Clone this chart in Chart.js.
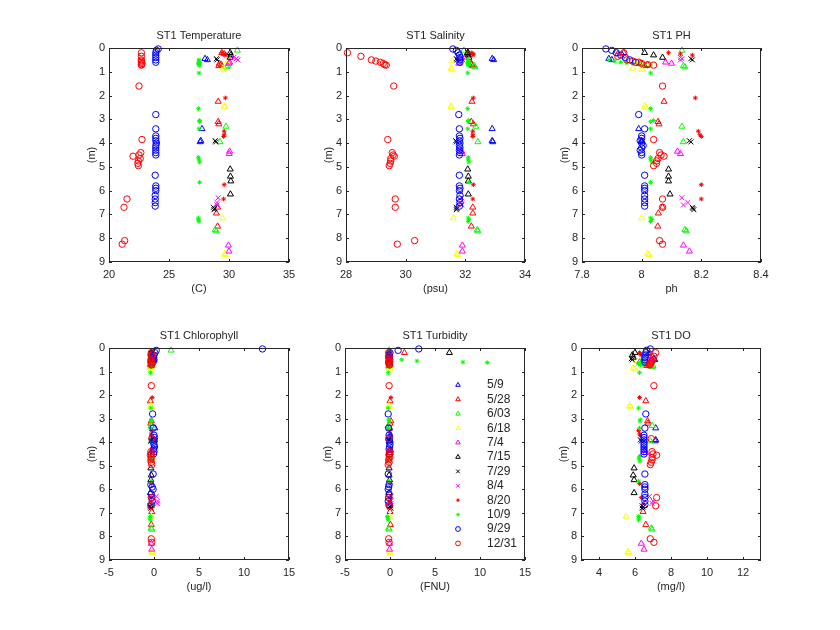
<!DOCTYPE html>
<html>
<head>
<meta charset="utf-8">
<script src="https://cdn.jsdelivr.net/npm/chart.js@4.4.1/dist/chart.umd.min.js"></script>
<style>
  body { margin: 0; background: #fff; }
  #fig { position: relative; width: 840px; height: 630px; background: #fff; overflow: hidden; }
  #fig canvas { position: absolute; }
</style>
</head>
<body>
<div id="fig"></div>
<script>
// sampling dates (one series per cruise)
const dates = ["5/9", "5/28", "6/03", "6/18", "7/4", "7/15", "7/29", "8/4", "8/20", "10/9", "9/29", "12/31"];

// depth (m) of every sample, one row per date
const depth = [
  [0.45, 0.5, 3.4, 3.9, 3.95],
  [0.2, 0.25, 0.65, 0.7, 0.75, 2.25, 3.1, 3.2, 6.7, 6.95, 7.5],
  [0.1, 0.75, 0.8, 3.3, 3.95, 7.65, 7.7],
  [0.55, 0.85, 0.9, 2.45, 2.5, 7.15, 8.65, 8.7],
  [0.6, 0.65, 4.35, 4.45, 8.3, 8.55],
  [0.2, 0.3, 0.4, 5.1, 5.4, 5.6, 6.15],
  [0.45, 0.5, 3.9, 3.95, 6.7, 6.75, 6.8],
  [0.4, 0.45, 0.5, 6.3, 6.5, 6.6],
  [0.2, 0.25, 0.3, 2.1, 3.5, 3.65, 3.72, 5.75, 6.35],
  [0.5, 0.55, 0.6, 0.62, 0.65, 0.68, 0.7, 0.72, 1.05, 2.55, 3.05, 3.1, 3.4, 4.6, 4.7, 4.8, 5.65, 7.15, 7.22, 7.3],
  [0.04, 0.1, 0.2, 0.3, 0.4, 0.5, 0.6, 2.8, 3.4, 3.7, 3.8, 3.9, 4.0, 4.1, 4.2, 4.3, 4.4, 4.5, 5.35, 5.8, 5.9, 6.0, 6.2, 6.35, 6.5, 6.65],
  [0.2, 0.35, 0.5, 0.55, 0.6, 0.65, 0.7, 0.72, 1.6, 3.85, 4.4, 4.5, 4.55, 4.65, 4.75, 4.85, 4.95, 6.35, 6.7, 8.1, 8.25]
];

const temperature = [
  [28.0, 28.2, 27.75, 27.65, 27.6],
  [29.4, 29.6, 29.2, 29.35, 29.15, 29.1, 29.1, 29.15, 29.05, 28.95, 29.05],
  [30.7, 29.9, 29.8, 29.75, 29.25, 28.85, 28.95],
  [29.9, 29.5, 29.6, 29.6, 29.65, 29.45, 29.65, 29.7],
  [30.05, 30.0, 30.05, 30.02, 29.95, 30.0],
  [30.1, 30.15, 30.1, 30.1, 30.12, 30.15, 30.12],
  [28.95, 29.0, 28.85, 28.9, 28.7, 28.8, 28.75],
  [30.4, 30.6, 30.75, 29.1, 29.0, 29.0],
  [29.4, 29.7, 29.65, 29.7, 29.6, 29.6, 29.55, 29.6, 29.55],
  [27.5, 27.5, 27.55, 27.5, 27.45, 27.5, 27.5, 27.55, 27.5, 27.45, 27.55, 27.55, 27.5, 27.45, 27.5, 27.55, 27.55, 27.45, 27.45, 27.5],
  [24.1, 23.95, 23.9, 23.9, 23.9, 23.9, 23.9, 23.9, 23.9, 23.9, 23.9, 23.9, 23.95, 23.9, 23.9, 23.9, 23.9, 23.9, 23.85, 23.9, 23.9, 23.9, 23.85, 23.85, 23.85, 23.85],
  [22.7, 22.7, 22.7, 22.7, 22.7, 22.75, 22.7, 22.7, 22.5, 22.75, 22.65, 22.5, 22.0, 22.6, 22.45, 22.4, 22.45, 21.5, 21.25, 21.3, 21.1]
];

const salinity = [
  [32.9, 32.95, 32.9, 32.9, 32.92],
  [32.1, 32.05, 32.2, 32.22, 32.25, 32.22, 32.2, 32.27, 32.25, 32.25, 32.2],
  [31.95, 32.3, 32.32, 32.35, 32.42, 32.4, 32.42],
  [31.57, 31.52, 31.55, 31.52, 31.53, 31.6, 31.72, 31.75],
  [31.8, 31.78, 31.88, 31.9, 31.9, 31.9],
  [32.08, 32.1, 32.12, 32.08, 32.1, 32.1, 32.1],
  [31.7, 31.72, 31.68, 31.7, 31.7, 31.72, 31.7],
  [31.9, 31.88, 31.92, 31.88, 31.85, 31.88],
  [32.2, 32.28, 32.25, 32.27, 32.25, 32.25, 32.25, 32.27, 32.25],
  [32.08, 32.1, 32.12, 32.1, 32.08, 32.1, 32.12, 32.1, 32.08, 32.08, 32.1, 32.1, 32.08, 32.1, 32.1, 32.12, 32.12, 32.1, 32.12, 32.1],
  [31.58, 31.7, 31.76, 31.8, 31.82, 31.82, 31.82, 31.78, 31.8, 31.8, 31.82, 31.8, 31.82, 31.8, 31.82, 31.8, 31.82, 31.8, 31.8, 31.8, 31.82, 31.8, 31.82, 31.8, 31.82, 31.8],
  [28.05, 28.5, 28.85, 29.0, 29.15, 29.25, 29.3, 29.35, 29.6, 29.4, 29.55, 29.58, 29.62, 29.5, 29.5, 29.48, 29.45, 29.65, 29.65, 30.3, 29.72]
];

const ph = [
  [7.89, 7.9, 7.99, 8.0, 8.0],
  [7.94, 7.92, 8.0, 8.02, 8.01, 8.075, 8.055, 8.058, 8.07, 8.056, 8.054],
  [8.135, 8.14, 8.145, 8.135, 8.14, 8.145, 8.15],
  [7.99, 7.97, 8.0, 8.01, 8.015, 8.0, 8.02, 8.025],
  [8.08, 8.1, 8.12, 8.13, 8.14, 8.16],
  [8.01, 8.04, 8.07, 8.09, 8.09, 8.09, 8.095],
  [8.165, 8.17, 8.16, 8.165, 8.17, 8.172, 8.175],
  [8.13, 8.135, 8.13, 8.135, 8.155, 8.14],
  [8.09, 8.13, 8.17, 8.18, 8.19, 8.195, 8.2, 8.2, 8.2],
  [7.89, 7.91, 7.93, 7.95, 7.97, 7.99, 8.01, 8.03, 8.03, 8.03, 8.04, 8.03, 8.03, 8.03, 8.03, 8.035, 8.03, 8.03, 8.035, 8.03],
  [7.88, 7.9, 7.915, 7.93, 7.945, 7.96, 7.98, 7.99, 8.01, 8.0, 8.0, 7.995, 8.0, 8.005, 8.0, 7.995, 8.0, 8.0, 8.01, 8.01, 8.01, 8.01, 8.01, 8.01, 8.01, 8.01],
  [7.94, 7.92, 7.95, 7.97, 7.99, 8.0, 8.02, 8.04, 8.07, 8.04, 8.06, 8.065, 8.075, 8.055, 8.05, 8.05, 8.04, 8.07, 8.07, 8.06, 8.07]
];

const chlorophyll = [
  [-0.1, 0.0, 0.1, 0.05, 0.0],
  [-0.3, -0.35, -0.3, -0.4, -0.3, -0.4, -0.3, -0.35, -0.3, -0.25, -0.3],
  [1.9, -0.3, -0.35, -0.3, -0.3, -0.3, -0.25],
  [-0.35, -0.4, -0.3, -0.35, -0.3, -0.3, -0.25, -0.2],
  [-0.25, -0.3, -0.25, -0.3, -0.3, -0.25],
  [-0.35, -0.3, -0.3, -0.35, -0.3, -0.35, -0.4],
  [-0.4, -0.35, -0.3, -0.35, -0.45, -0.4, -0.35],
  [-0.3, -0.25, -0.3, 0.25, 0.4, 0.35],
  [-0.3, -0.3, -0.25, -0.2, -0.3, -0.3, -0.3, -0.3, -0.3],
  [-0.4, -0.35, -0.4, -0.3, -0.35, -0.4, -0.3, -0.35, -0.4, -0.35, -0.3, -0.35, -0.4, -0.35, -0.3, -0.35, -0.3, -0.4, -0.45, -0.4],
  [12.05, 0.25, 0.1, 0.0, -0.05, 0.0, -0.1, -0.15, -0.1, 0.0, 0.05, 0.0, -0.05, 0.0, 0.05, -0.05, 0.0, -0.05, -0.1, -0.35, -0.2, -0.1, -0.3, -0.25, -0.2, -0.3],
  [-0.3, -0.25, -0.35, -0.3, -0.35, -0.3, -0.25, -0.3, -0.3, -0.25, -0.35, -0.3, -0.4, -0.3, -0.35, -0.3, -0.25, -0.3, -0.35, -0.3, -0.25]
];

const turbidity = [
  [-0.1, 0.0, -0.05, 0.0, 0.0],
  [1.6, -0.1, -0.1, 0.0, -0.1, 0.0, 0.1, 0.0, -0.05, 0.0, 0.05],
  [-0.1, -0.15, -0.1, -0.2, -0.1, -0.15, -0.1],
  [-0.1, -0.05, 0.0, -0.1, -0.05, 0.0, -0.05, 0.0],
  [-0.1, -0.1, 0.05, 0.05, -0.05, -0.05],
  [6.6, 0.0, -0.1, -0.1, -0.1, -0.05, -0.1],
  [-0.05, 0.0, -0.1, 0.0, 0.05, 0.0, 0.1],
  [0.0, -0.05, 0.0, 0.1, 0.05, 0.1],
  [0.0, -0.1, 0.0, 0.1, 0.0, 0.0, 0.05, 0.0, 0.0],
  [1.3, 3.0, 8.1, 10.8, -0.1, -0.1, 0.0, -0.1, -0.2, -0.2, -0.15, -0.1, -0.2, -0.15, -0.1, -0.2, -0.1, -0.3, -0.25, -0.2],
  [3.2, 0.9, 0.0, -0.1, -0.15, -0.05, -0.1, -0.2, -0.15, -0.1, -0.05, -0.1, -0.05, 0.0, -0.05, -0.1, 0.0, -0.05, -0.2, -0.1, -0.15, -0.2, -0.1, -0.15, -0.2, -0.1],
  [-0.15, -0.1, -0.05, -0.1, -0.15, -0.1, -0.1, -0.05, -0.1, -0.15, -0.05, -0.1, -0.1, -0.05, -0.15, -0.1, -0.2, -0.1, -0.1, -0.15, -0.1]
];

const dissolvedOxygen = [
  [7.05, 7.1, 7.15, 7.15, 7.12],
  [6.8, 6.75, 6.7, 6.75, 6.65, 6.6, 6.7, 6.72, 6.5, 6.45, 6.6],
  [6.6, 7.0, 6.95, 6.95, 6.85, 6.9, 6.95],
  [6.1, 5.9, 6.0, 5.7, 5.75, 5.5, 5.6, 5.65],
  [6.25, 6.35, 6.55, 6.6, 6.35, 6.5],
  [6.0, 5.85, 5.9, 5.95, 5.9, 5.95, 5.95],
  [5.8, 5.85, 6.3, 6.35, 6.4, 6.45, 6.4],
  [6.8, 6.85, 6.9, 6.8, 7.0, 6.95],
  [6.25, 6.3, 6.35, 6.25, 6.2, 6.25, 6.3, 6.25, 6.35],
  [6.4, 6.45, 6.3, 6.35, 6.5, 6.2, 6.3, 6.4, 6.25, 6.2, 6.3, 6.28, 6.25, 6.25, 6.22, 6.27, 6.2, 6.2, 6.22, 6.2],
  [6.85, 6.65, 6.6, 6.6, 6.55, 6.55, 6.55, 6.6, 6.55, 6.5, 6.5, 6.5, 6.5, 6.5, 6.5, 6.5, 6.5, 6.5, 6.55, 6.55, 6.55, 6.55, 6.55, 6.55, 6.55, 6.55],
  [7.15, 7.05, 7.0, 6.95, 6.9, 6.85, 6.85, 6.8, 7.05, 6.9, 6.95, 7.0, 7.2, 6.95, 6.95, 6.9, 6.85, 7.2, 7.15, 6.85, 7.05]
];

// tick labels
const depthTicks = [0, 1, 2, 3, 4, 5, 6, 7, 8, 9];
const temperatureTicks = [20, 25, 30, 35];
const salinityTicks = [28, 30, 32, 34];
const phTicks = [7.8, 8, 8.2, 8.4];
const chlorophyllTicks = [-5, 0, 5, 10, 15];
const turbidityTicks = [-5, 0, 5, 10, 15];
const oxygenTicks = [4, 6, 8, 10, 12];

// marker style per date (matlab-like)
const seriesColors = ["#0000ff", "#ff0000", "#00ff00", "#ffff00", "#ff00ff", "#000000",
  "#000000", "#ff00ff", "#ff0000", "#00ff00", "#0000ff", "#ff0000"];
const seriesMarkers = ["triangle", "triangle", "triangle", "triangle", "triangle", "triangle",
  "crossRot", "crossRot", "star", "star", "circle", "circle"];
const markerRadius = { triangle: 3.5, crossRot: 3.5, star: 2.3, circle: 3.2 };

const textColor = "#262626";
const fontFamily = "'Liberation Sans', Arial, Helvetica, sans-serif";

// panel boxes in the figure: plot area left, top, width, height
const panels = [
  { title: "ST1 Temperature", unit: "(C)", values: temperature, min: 20, max: 35, ticks: temperatureTicks, box: [109, 48, 180, 214] },
  { title: "ST1 Salinity", unit: "(psu)", values: salinity, min: 28, max: 34, ticks: salinityTicks, box: [346, 48, 179, 214] },
  { title: "ST1 PH", unit: "ph", values: ph, min: 7.8, max: 8.4, ticks: phTicks, box: [582, 48, 179, 214] },
  { title: "ST1 Chlorophyll", unit: "(ug/l)", values: chlorophyll, min: -5, max: 15, ticks: chlorophyllTicks, box: [109, 348, 180, 212] },
  { title: "ST1 Turbidity", unit: "(FNU)", values: turbidity, min: -5, max: 15, ticks: turbidityTicks, box: [345, 348, 180, 212], legend: true },
  { title: "ST1 DO", unit: "(mg/l)", values: dissolvedOxygen, min: 3, max: 13, ticks: oxygenTicks, box: [581, 348, 180, 212] }
];

const MARGEM_ESQ = 30, MARGEM_SUP = 25, MARGEM_DIR = 18, MARGEM_INF = 36;

// box, inward ticks, title and (optionally) legend
const molduraPlugin = {
  id: "moldura",
  afterDraw(chart, args, opts) {
    const ctx = chart.ctx;
    const a = chart.chartArea;
    const x = chart.scales.x;
    const y = chart.scales.y;
    ctx.save();
    ctx.strokeStyle = textColor;
    ctx.lineWidth = 1;
    ctx.strokeRect(Math.round(a.left) + 0.5, Math.round(a.top) + 0.5,
      Math.round(a.width) - 1, Math.round(a.height) - 1);
    ctx.beginPath();
    x.ticks.forEach((t) => {
      const px = Math.round(x.getPixelForValue(t.value)) + 0.5;
      ctx.moveTo(px, a.bottom); ctx.lineTo(px, a.bottom - 3);
      ctx.moveTo(px, a.top); ctx.lineTo(px, a.top + 3);
    });
    y.ticks.forEach((t) => {
      const py = Math.round(y.getPixelForValue(t.value)) + 0.5;
      ctx.moveTo(a.left, py); ctx.lineTo(a.left + 3, py);
      ctx.moveTo(a.right, py); ctx.lineTo(a.right - 3, py);
    });
    ctx.stroke();

    ctx.fillStyle = textColor;
    ctx.font = "11px " + fontFamily;
    ctx.textAlign = "center";
    ctx.textBaseline = "middle";
    ctx.fillText(opts.title, (a.left + a.right) / 2, a.top - 12);

    if (opts.legend) {
      dates.forEach((label, i) => {
        const lx = a.left + 113;
        const ly = a.top + 37 + i * 14.4;
        const estilo = seriesMarkers[i];
        ctx.strokeStyle = seriesColors[i];
        ctx.fillStyle = estilo === "star" ? seriesColors[i] : "rgba(0,0,0,0)";
        Chart.helpers.drawPoint(ctx, { pointStyle: estilo, radius: markerRadius[estilo] * 0.75, rotation: 0, borderWidth: 1 }, lx, ly);
        ctx.fillStyle = textColor;
        ctx.font = "12px " + fontFamily;
        ctx.textAlign = "left";
        ctx.fillText(label, a.left + 142, ly);
      });
    }
    ctx.restore();
  }
};

function montarDatasets(values) {
  return dates.map((label, i) => {
    const estilo = seriesMarkers[i];
    return {
      label: label,
      data: depth[i].map((d, k) => ({ x: values[i][k], y: d })),
      pointStyle: estilo,
      pointRadius: markerRadius[estilo],
      pointBorderWidth: 1,
      pointBorderColor: seriesColors[i],
      pointBackgroundColor: estilo === "star" ? seriesColors[i] : "rgba(0,0,0,0)",
      showLine: false,
      clip: false,
      order: dates.length - 1 - i
    };
  });
}

const fig = document.getElementById("fig");

panels.forEach((p) => {
  const [bx, by, bw, bh] = p.box;
  const canvas = document.createElement("canvas");
  const w = bw + MARGEM_ESQ + MARGEM_DIR;
  const h = bh + MARGEM_SUP + MARGEM_INF;
  canvas.width = w;
  canvas.height = h;
  canvas.style.left = (bx - MARGEM_ESQ) + "px";
  canvas.style.top = (by - MARGEM_SUP) + "px";
  canvas.style.width = w + "px";
  canvas.style.height = h + "px";
  fig.appendChild(canvas);

  const fonte = { family: fontFamily, size: 11 };

  new Chart(canvas.getContext("2d"), {
    type: "scatter",
    data: { datasets: montarDatasets(p.values) },
    options: {
      responsive: false,
      animation: false,
      devicePixelRatio: 1,
      events: [],
      layout: { padding: { top: MARGEM_SUP, right: MARGEM_DIR, left: 0, bottom: 0 } },
      plugins: {
        legend: { display: false },
        tooltip: { enabled: false },
        moldura: { title: p.title, legend: !!p.legend }
      },
      scales: {
        x: {
          type: "linear",
          min: p.min,
          max: p.max,
          afterBuildTicks: (s) => { s.ticks = p.ticks.map((v) => ({ value: v })); },
          afterFit: (s) => { s.height = MARGEM_INF; },
          grid: { display: false, drawTicks: false },
          border: { display: false },
          ticks: { padding: 6, color: textColor, font: fonte, autoSkip: false, maxRotation: 0, callback: (v) => String(v) },
          title: { display: true, text: p.unit, color: textColor, font: fonte, padding: { top: 0, bottom: 2 } }
        },
        y: {
          type: "linear",
          reverse: true,
          min: 0,
          max: 9,
          afterBuildTicks: (s) => { s.ticks = depthTicks.map((v) => ({ value: v })); },
          afterFit: (s) => { s.width = MARGEM_ESQ; },
          grid: { display: false, drawTicks: false },
          border: { display: false },
          ticks: { padding: 4, color: textColor, font: fonte, autoSkip: false, callback: (v) => String(v) },
          title: { display: true, text: "(m)", color: textColor, font: fonte, padding: { top: 6, bottom: 0 } }
        }
      }
    },
    plugins: [molduraPlugin]
  });
});
</script>
</body>
</html>
